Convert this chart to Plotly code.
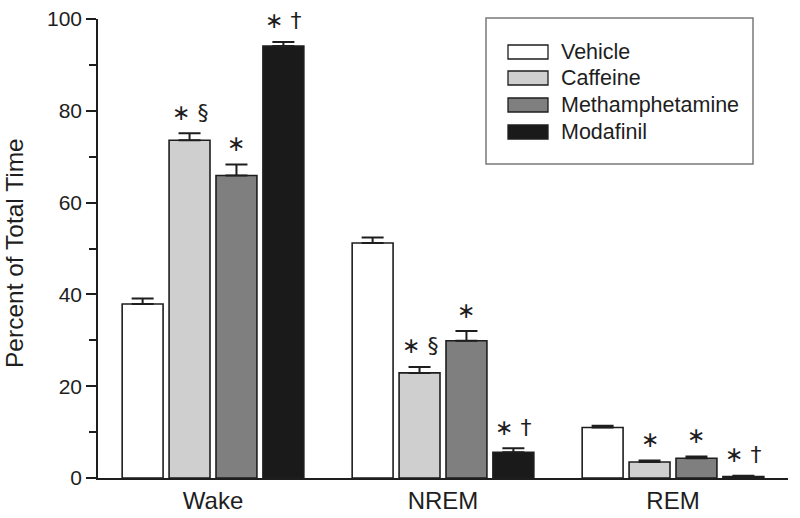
import plotly.graph_objects as go

# ---- data ----
stages = ["Wake", "NREM", "REM"]
treatments = ["Vehicle", "Caffeine", "Methamphetamine", "Modafinil"]
vehicle = [37.9, 51.2, 11.0]
caffeine = [73.6, 22.9, 3.5]
methamphetamine = [65.9, 29.9, 4.3]
modafinil = [94.1, 5.6, 0.3]
vehicle_err = [1.2, 1.2, 0.4]
caffeine_err = [1.5, 1.3, 0.3]
methamphetamine_err = [2.4, 2.1, 0.4]
modafinil_err = [0.9, 0.9, 0.2]
caffeine_sig = ["∗ §", "∗ §", "∗"]
methamphetamine_sig = ["∗", "∗", "∗"]
modafinil_sig = ["∗ †", "∗ †", "∗ †"]
vehicle_sig = ["", "", ""]

values = [vehicle, caffeine, methamphetamine, modafinil]
errors = [vehicle_err, caffeine_err, methamphetamine_err, modafinil_err]
sigs = [vehicle_sig, caffeine_sig, methamphetamine_sig, modafinil_sig]
fills = ["#ffffff", "#cfcfcf", "#7f7f7f", "#1a1a1a"]
INK = "#1e1e1e"
FONT = "Liberation Sans, Arial, sans-serif"

BARGAP = 0.184
BARGROUPGAP = 0.128

fig = go.Figure()
for name, v, e, c in zip(treatments, values, errors, fills):
    fig.add_trace(go.Bar(
        x=stages, y=v, name=name,
        marker=dict(color=c, line=dict(color=INK, width=1.6)),
        error_y=dict(type="data", array=e, arrayminus=[0] * len(e), symmetric=False,
                     color=INK, thickness=2, width=11),
        showlegend=False,
    ))

# significance markers
slot = (1 - BARGAP) / len(treatments)
annotations = []
for i, (v, e, s) in enumerate(zip(values, errors, sigs)):
    off = (i - (len(treatments) - 1) / 2) * slot
    for j in range(len(stages)):
        if s[j]:
            annotations.append(dict(
                x=j + off, y=v[j] + e[j], xref="x", yref="y", text=s[j],
                showarrow=False, yanchor="middle", yshift=21,
                font=dict(family="DejaVu Sans, Liberation Sans, sans-serif", size=22, color=INK),
            ))

# page layout
W, H = 800, 518
PX0, PX1, PY0, PY1 = 98, 788, 19, 478  # plot area in page pixels
L, R, T, B = PX0, W - PX1, PY0, H - PY1
pw, ph = PX1 - PX0, PY1 - PY0

def px(xp):
    return (xp - PX0) / pw

def py(yp):
    return (PY1 - yp) / ph

shapes = [dict(type="rect", xref="paper", yref="paper",
               x0=px(486), x1=px(753), y0=py(164), y1=py(18),
               line=dict(color="#7a7a7a", width=1.5), fillcolor="#ffffff")]
row_y = [52, 78, 105, 132]
for name, c, ry in zip(treatments, fills, row_y):
    shapes.append(dict(type="rect", xref="paper", yref="paper",
                       x0=px(508), x1=px(548), y0=py(ry + 7), y1=py(ry - 7),
                       line=dict(color=INK, width=1.3), fillcolor=c))
    annotations.append(dict(x=px(559), y=py(ry), xref="paper", yref="paper",
                            text=name, showarrow=False, xanchor="left", yanchor="middle",
                            font=dict(family=FONT, size=21.5, color=INK)))

# y-axis title
annotations.append(dict(x=px(15), y=py(253), xref="paper", yref="paper",
                        text="Percent of Total Time", textangle=-90, showarrow=False,
                        xanchor="center", yanchor="middle",
                        font=dict(family=FONT, size=24.5, color=INK)))

fig.update_layout(
    width=W, height=H,
    margin=dict(l=L, r=R, t=T, b=B, autoexpand=False),
    paper_bgcolor="white", plot_bgcolor="white",
    barmode="group", bargap=BARGAP, bargroupgap=BARGROUPGAP,
    font=dict(family=FONT, color=INK),
    shapes=shapes, annotations=annotations,
    xaxis=dict(range=[-0.5, 2.5], showline=True, linecolor=INK, linewidth=1.6,
               ticks="", showgrid=False, zeroline=False, automargin=False,
               ticklabeloverflow="allow",
               tickfont=dict(size=24, family=FONT, color=INK)),
    yaxis=dict(range=[0, 100], showline=True, linecolor=INK, linewidth=1.6,
               ticks="outside", ticklen=10, tickwidth=1.6, tickcolor=INK,
               tickvals=[0, 20, 40, 60, 80, 100], showgrid=False, zeroline=False,
               automargin=False, ticklabeloverflow="allow",
               minor=dict(ticks="outside", ticklen=7, tickwidth=1.6, tickcolor=INK, dtick=10),
               tickfont=dict(size=21, family=FONT, color=INK)),
)

# remove the default page margin so the figure sits at the window's top-left corner
fig.write_html("out.html", config={"displayModeBar": False},
               post_script="document.body.style.margin='0';")
